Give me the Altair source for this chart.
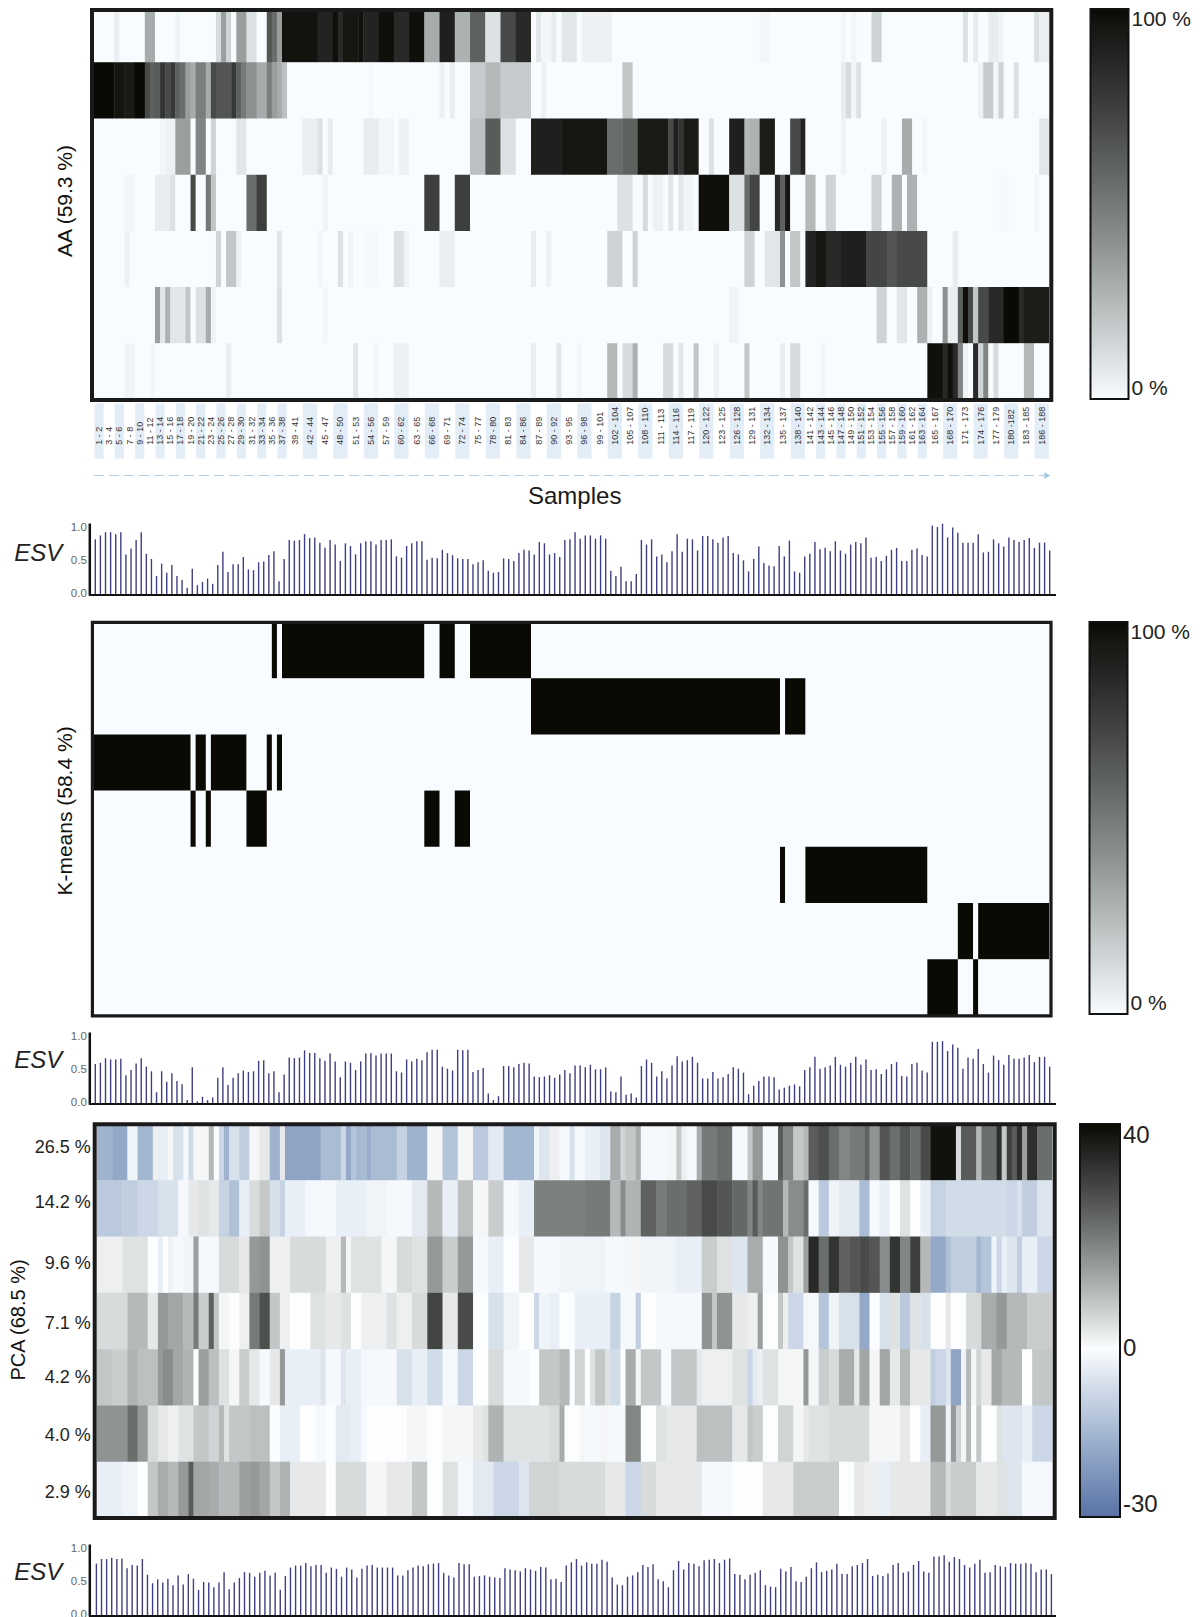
import altair as alt
import pandas as pd

FONT = "Liberation Sans"
N = 188

# ---- AA heat map: (first sample column, last sample column, percent)
aa_1 = [(4,4,5),(10,11,30),(16,16,3),(24,24,12),(25,25,35),(26,26,15),(28,29,35),(30,31,10),(34,34,65),(35,35,55),(36,36,35),(37,43,97),(44,46,88),(47,47,98),(48,48,85),(49,51,95),(52,52,98),(53,55,88),(56,58,98),(59,61,85),(62,64,98),(65,67,30),(68,70,90),(71,73,28),(74,76,60),(77,79,10),(80,82,70),(83,85,85),(87,87,8),(88,89,2),(90,90,6),(92,94,8),(96,101,4),(131,132,2),(147,147,2),(149,149,2),(153,154,15),(171,171,10),(173,173,6),(176,177,6),(178,178,3),(185,185,10),(186,187,5)]
aa_2 = [(0,3,100),(4,5,96),(6,7,93),(8,9,100),(10,10,70),(11,11,60),(12,12,62),(13,13,80),(14,14,70),(15,15,78),(16,16,60),(17,17,55),(18,18,35),(19,19,30),(20,21,48),(22,22,30),(23,23,70),(24,26,65),(27,27,78),(28,28,60),(29,29,50),(30,31,40),(32,33,30),(34,34,48),(35,35,35),(36,36,30),(37,37,22),(54,54,1),(68,68,4),(70,70,5),(74,76,18),(77,79,25),(80,85,18),(88,88,4),(104,105,20),(147,147,6),(148,148,12),(149,149,2),(150,150,10),(174,174,4),(175,176,18),(177,177,2),(178,178,15),(181,181,10)]
aa_3 = [(13,13,2),(14,15,4),(16,18,35),(20,21,45),(23,23,15),(28,29,8),(41,43,5),(44,44,10),(46,46,6),(53,55,6),(56,58,2),(60,61,4),(74,76,22),(77,79,62),(80,82,10),(86,91,90),(92,100,95),(101,103,55),(104,106,60),(107,112,93),(113,113,70),(114,114,90),(115,115,80),(116,118,93),(121,121,10),(125,127,90),(128,128,25),(129,130,28),(131,133,92),(137,138,70),(139,139,88),(147,147,3),(155,155,4),(159,160,30),(163,163,2),(186,187,8)]
aa_4 = [(6,7,2),(12,14,6),(15,15,10),(19,19,70),(22,22,50),(23,23,20),(30,31,55),(32,33,75),(45,45,3),(65,67,75),(71,73,75),(103,105,10),(108,108,12),(110,111,4),(113,113,8),(115,115,8),(116,117,3),(119,124,98),(125,127,10),(128,128,55),(129,130,72),(134,134,85),(135,135,60),(136,136,95),(140,141,25),(144,145,15),(153,154,15),(157,158,28),(160,161,28),(178,179,1),(185,185,2)]
aa_5 = [(6,6,4),(24,24,15),(26,27,20),(28,28,4),(36,36,8),(44,44,2),(48,48,10),(50,50,3),(53,55,1),(59,60,10),(61,61,3),(68,70,5),(86,86,6),(89,89,4),(101,103,15),(106,106,15),(128,129,15),(132,134,8),(135,135,40),(137,138,20),(140,141,88),(142,143,95),(144,146,85),(147,151,90),(152,155,72),(156,157,65),(158,163,70),(169,169,6)]
aa_6 = [(12,12,35),(13,13,8),(14,14,28),(15,17,8),(18,18,20),(20,21,10),(22,22,30),(23,23,3),(36,36,10),(45,45,2),(125,126,3),(154,155,15),(158,159,8),(162,163,28),(164,164,4),(167,167,40),(168,169,5),(170,170,60),(171,171,98),(172,172,70),(173,173,20),(174,175,70),(176,178,85),(179,181,100),(182,182,85),(183,187,92)]
aa_7 = [(6,7,3),(11,11,2),(26,26,5),(51,51,8),(55,55,2),(59,61,4),(86,86,5),(91,91,8),(95,95,2),(101,102,25),(104,105,12),(106,106,28),(112,113,12),(115,115,8),(118,118,20),(122,122,4),(128,128,20),(135,135,5),(137,138,12),(143,143,2),(164,166,98),(167,167,85),(168,168,98),(169,169,85),(170,170,45),(171,171,3),(173,173,85),(174,174,15),(175,175,45),(177,177,12),(183,184,25)]
aa_rows = [aa_1, aa_2, aa_3, aa_4, aa_5, aa_6, aa_7]

# ---- K-means membership: (first column, last column, cluster row)
kmeans_runs = [(0,18,2),(19,19,3),(20,21,2),(22,22,3),(23,29,2),(30,33,3),(34,34,2),(35,35,0),(36,36,2),(37,64,0),(65,67,3),(68,70,0),(71,73,3),(74,85,0),(86,134,1),(135,135,4),(136,139,1),(140,163,4),(164,169,6),(170,172,5),(173,173,6),(174,187,5)]

# ---- PCA heat map: (first column, score) - holds until the next entry
pca_1 = [(0,-16),(3,-18),(6,-2),(8,-15),(11,2),(12,-3),(14,1),(15,-6),(17,-1),(18,-7),(19,1),(22,10),(23,0),(24,-8),(25,-16),(26,-6),(28,-10),(30,1),(32,3),(34,-16),(36,3),(37,-19),(44,-14),(48,-8),(49,-18),(50,-12),(51,-15),(52,-14),(53,-17),(54,-14),(59,-9),(61,-16),(65,1),(68,-12),(71,1),(74,-11),(77,-4),(80,-15),(86,-2),(87,-5),(89,2),(91,-1),(93,-6),(94,-1),(96,-3),(99,-5),(101,12),(103,6),(104,8),(106,12),(107,-1),(112,1),(114,8),(115,2),(116,-1),(118,12),(119,20),(122,22),(125,-1),(128,8),(129,15),(131,-1),(134,25),(135,18),(137,8),(139,10),(140,25),(142,27),(144,22),(146,18),(148,20),(151,24),(152,16),(154,26),(156,22),(158,26),(160,22),(162,28),(164,39),(169,5),(170,25),(173,10),(174,22),(177,33),(178,8),(179,30),(180,25),(181,33),(182,14),(183,33),(185,22)]
pca_2 = [(0,-11),(5,-10),(8,-8),(12,-6),(16,-1),(18,3),(20,4),(22,3),(24,-9),(26,-13),(28,-3),(30,5),(32,8),(34,-6),(36,-9),(37,-3),(41,-1),(47,-3),(53,-2),(57,-1),(62,-4),(65,10),(68,-3),(71,9),(74,1),(77,7),(80,-1),(83,-3),(86,19),(96,20),(101,10),(103,17),(104,11),(107,24),(110,20),(112,22),(116,24),(119,28),(122,26),(125,23),(128,18),(129,25),(130,18),(131,21),(135,10),(136,17),(139,22),(140,-1),(142,-11),(144,-2),(146,-4),(150,-14),(152,-1),(154,-3),(156,0),(158,4),(160,0),(162,-3),(164,-9),(167,-7),(179,-8),(181,-6),(182,-10),(185,-5)]
pca_3 = [(0,2),(5,4),(10,0),(12,-3),(13,0),(14,-2),(15,-1),(17,-2),(19,14),(20,-1),(24,5),(28,3),(30,15),(32,16),(34,2),(38,5),(45,2),(48,10),(49,1),(50,4),(56,1),(59,5),(62,4),(65,15),(68,7),(71,15),(74,-1),(77,-3),(80,0),(83,3),(86,-1),(91,-2),(100,-1),(104,1),(107,-2),(114,-3),(119,7),(122,4),(125,-5),(128,12),(131,-1),(134,16),(136,8),(137,4),(139,14),(140,34),(142,22),(144,32),(146,24),(148,26),(150,28),(152,26),(154,17),(156,32),(158,18),(160,30),(162,10),(164,-18),(167,-13),(168,-10),(173,-15),(174,-12),(176,-2),(177,-8),(178,-3),(179,-5),(181,-10),(182,-3),(185,-8)]
pca_4 = [(0,5),(6,10),(10,3),(12,15),(14,13),(17,10),(19,20),(20,7),(22,24),(23,8),(24,1),(26,0),(28,2),(30,20),(32,27),(34,8),(36,2),(38,0),(42,4),(45,3),(48,4),(50,0),(52,2),(57,4),(59,2),(62,5),(65,29),(68,3),(71,28),(74,0),(77,-6),(80,-2),(83,0),(86,-8),(87,-2),(89,-3),(91,0),(94,-3),(101,-9),(103,-1),(106,-10),(107,0),(110,-1),(119,16),(121,8),(122,16),(125,3),(128,2),(130,14),(131,0),(134,8),(135,2),(136,-8),(139,1),(140,-1),(142,-12),(144,-2),(146,-6),(150,-18),(152,0),(154,-6),(156,4),(158,-11),(160,4),(162,-6),(164,0),(167,3),(168,0),(171,5),(174,12),(177,15),(179,10),(183,7)]
pca_5 = [(0,8),(3,7),(6,11),(8,9),(12,15),(13,17),(15,13),(17,11),(19,0),(20,14),(22,9),(24,4),(26,1),(28,7),(30,3),(32,-1),(34,3),(36,15),(37,-3),(44,-5),(45,-1),(48,-5),(49,-3),(52,-1),(59,-6),(62,-3),(65,-7),(68,-1),(71,-8),(74,0),(77,5),(80,-1),(85,0),(87,8),(91,10),(93,0),(94,6),(96,0),(97,4),(98,8),(100,4),(101,-7),(103,0),(104,12),(106,1),(107,8),(111,-1),(113,8),(118,3),(119,2),(125,4),(128,-8),(129,-4),(130,2),(131,4),(134,1),(139,15),(140,1),(142,7),(144,5),(146,12),(149,3),(150,13),(152,1),(154,13),(156,3),(158,10),(160,3),(164,-10),(165,-8),(167,-5),(168,-19),(170,-2),(171,10),(172,1),(173,6),(174,3),(176,13),(178,10),(182,0),(184,8)]
pca_6 = [(0,16),(6,22),(8,15),(10,5),(12,3),(14,2),(16,4),(19,8),(22,6),(24,10),(25,4),(26,8),(30,9),(34,0),(36,-3),(40,0),(43,-1),(45,0),(47,-4),(50,-3),(52,-1),(53,0),(61,1),(65,0),(68,1),(74,3),(76,4),(77,11),(80,4),(89,5),(91,12),(92,0),(95,1),(96,-1),(99,1),(101,-1),(104,18),(107,0),(110,4),(112,3),(118,9),(125,3),(128,8),(129,7),(131,0),(134,6),(137,1),(139,3),(140,4),(144,5),(152,1),(158,3),(160,0),(162,-3),(164,15),(167,-2),(168,15),(169,6),(170,1),(171,10),(172,0),(173,8),(174,0),(177,4),(178,-5),(182,-3),(184,-8)]
pca_7 = [(0,-3),(5,-2),(8,0),(10,8),(12,12),(14,10),(16,15),(18,25),(19,13),(22,12),(24,10),(28,14),(30,15),(32,13),(34,8),(36,11),(38,3),(45,0),(47,5),(53,1),(57,3),(62,8),(65,0),(68,4),(71,-1),(74,-4),(78,-8),(83,-5),(85,6),(91,5),(100,3),(104,-8),(107,5),(110,3),(119,-1),(125,0),(131,3),(137,7),(146,0),(149,3),(151,2),(154,-3),(156,3),(164,10),(167,5),(168,7),(173,3),(177,4),(179,-5),(182,-1)]
pca_rows = [pca_1, pca_2, pca_3, pca_4, pca_5, pca_6, pca_7]
pca_labels = ["26.5 %", "14.2 %", "9.6 %", "7.1 %", "4.2 %", "4.0 %", "2.9 %"]
pca_label_rows = [0.43, 1.41, 2.48, 3.55, 4.52, 5.55, 6.56]

# ---- Explained sample variance
esv_aa = [.82,.88,.93,.93,.90,.93,.59,.68,.81,.93,.60,.52,.26,.45,.31,.43,.26,.20,.08,.37,.12,.17,.22,.14,.43,.63,.32,.44,.44,.55,.36,.35,.47,.48,.58,.64,.18,.52,.81,.80,.81,.90,.84,.85,.77,.69,.81,.74,.49,.76,.72,.59,.76,.79,.79,.74,.81,.81,.82,.56,.54,.72,.76,.79,.79,.51,.54,.53,.66,.61,.58,.53,.52,.52,.44,.47,.50,.34,.31,.32,.53,.52,.49,.61,.66,.65,.59,.78,
          .76,.59,.61,.55,.81,.82,.93,.83,.88,.88,.83,.88,.83,.34,.26,.40,.18,.18,.29,.81,.74,.82,.56,.59,.47,.64,.90,.63,.83,.82,.65,.87,.87,.82,.77,.85,.87,.61,.59,.50,.33,.52,.71,.46,.42,.41,.72,.56,.80,.33,.31,.56,.60,.78,.67,.69,.64,.79,.65,.60,.74,.78,.76,.85,.54,.55,.49,.57,.66,.69,.49,.49,.66,.68,.58,.56,1.03,1.01,1.06,.85,1.00,.92,.77,.77,.77,.90,.62,.63,.82,.76,.71,.85,.81,.78,.81,.84,.69,.77,.77,.65]
esv_kmeans = [.58,.60,.67,.65,.65,.66,.41,.49,.59,.67,.54,.47,.15,.47,.31,.44,.32,.27,.03,.53,.01,.08,.03,.07,.37,.53,.26,.37,.44,.48,.46,.47,.63,.64,.44,.47,.15,.42,.68,.67,.68,.79,.75,.75,.67,.63,.74,.62,.38,.62,.60,.49,.62,.74,.75,.71,.74,.74,.74,.47,.45,.65,.62,.66,.64,.76,.80,.80,.54,.51,.48,.80,.79,.80,.46,.49,.52,.13,.03,.09,.55,.55,.53,.58,.60,.59,.39,.38,
              .39,.41,.37,.42,.49,.44,.56,.56,.53,.57,.50,.50,.53,.16,.15,.39,.11,.13,.07,.55,.65,.60,.39,.47,.36,.56,.70,.62,.64,.69,.60,.36,.36,.46,.36,.38,.43,.53,.51,.45,.12,.25,.32,.39,.39,.38,.19,.22,.25,.27,.24,.49,.53,.69,.51,.53,.56,.69,.57,.54,.60,.69,.57,.65,.49,.50,.43,.50,.58,.61,.40,.39,.58,.60,.48,.45,.92,.92,.93,.78,.88,.83,.51,.68,.66,.81,.58,.45,.71,.64,.57,.72,.66,.66,.68,.72,.61,.69,.69,.54]
esv_pca = [.77,.84,.84,.86,.84,.85,.70,.75,.74,.84,.60,.47,.53,.48,.54,.44,.59,.45,.61,.54,.37,.49,.48,.41,.48,.64,.38,.48,.55,.64,.63,.57,.63,.66,.59,.63,.37,.58,.71,.74,.74,.78,.73,.75,.75,.63,.71,.69,.57,.71,.68,.56,.69,.74,.75,.71,.71,.71,.71,.59,.59,.67,.71,.74,.73,.76,.77,.78,.63,.59,.56,.78,.76,.76,.57,.58,.59,.57,.56,.55,.70,.68,.67,.65,.70,.68,.66,.72,
           .71,.53,.54,.49,.74,.79,.84,.74,.79,.77,.77,.83,.80,.56,.45,.44,.57,.59,.64,.75,.72,.76,.53,.50,.41,.67,.81,.68,.78,.77,.73,.82,.83,.84,.78,.83,.85,.61,.60,.53,.60,.63,.67,.44,.42,.41,.69,.65,.72,.50,.49,.57,.70,.79,.64,.66,.68,.77,.61,.61,.73,.75,.78,.84,.58,.60,.58,.62,.75,.78,.63,.65,.75,.81,.65,.63,.88,.88,.90,.80,.87,.84,.75,.71,.77,.83,.63,.64,.75,.73,.72,.78,.77,.77,.78,.77,.64,.68,.68,.61]

# ---- Sample axis labels
sample_labels = ["1 - 2","3 - 4","5 - 6","7 - 8","9 - 10","11 - 12","13 - 14","15 - 16","17 - 18","19 - 20","21 - 22","23 - 24","25 - 26","27 - 28","29 - 30","31 - 32","33 - 34","35 - 36","37 - 38","39 - 41","42 - 44","45 - 47","48 - 50","51 - 53","54 - 56","57 - 59","60 - 62","63 - 65","66 - 68","69 - 71","72 - 74","75 - 77","78 - 80","81 - 83","84 - 86","87 - 89","90 - 92","93 - 95","96 - 98","99 - 101","102 - 104","105 - 107","108 - 110","111 - 113","114 - 116","117 - 119","120 - 122","123 - 125","126 - 128","129 - 131","132 - 134","135 - 137","138 - 140","141 - 142","143 - 144","145 - 146","147 - 148","149 - 150","151 - 152","153 - 154","155 - 156","157 - 158","159 - 160","161 - 162","163 - 164","165 - 167","168 - 170","171 - 173","174 - 176","177 - 179","180 -182","183 - 185","186 - 188"]

# ---- styling
WHITE = "#f8fcff"
BLACK = "#0a0904"
FRAME = "#1a1a1a"
BAR = "#3f3f82"
W = 955.3
ONE = alt.Data(values=[{"a": 1}])


def merge(values, row):
    out, start = [], 0
    for i in range(1, len(values) + 1):
        if i == len(values) or values[i] != values[start]:
            out.append({"x": start, "x2": min(i + 0.08, N), "y": row, "y2": row + 1.01, "v": values[start]})
            start = i
    return out


def from_ranges(ranges):
    vals = [0] * N
    for a, b, v in ranges:
        for i in range(a, b + 1):
            vals[i] = v
    return vals


def from_starts(starts):
    vals = [0] * N
    for k, (a, v) in enumerate(starts):
        end = starts[k + 1][0] if k + 1 < len(starts) else N
        for i in range(a, end):
            vals[i] = v
    return vals


def heat(rows, xrange, yrange, width, height, color_scale, legend, frame, frame_w, extras):
    cells = []
    for r, vals in enumerate(rows):
        cells += merge(vals, r)
    base = alt.Chart(pd.DataFrame(cells)).mark_rect(clip=True, strokeWidth=0).encode(
        x=alt.X("x:Q", axis=None, scale=alt.Scale(domain=[0, N], range=xrange)),
        x2="x2:Q",
        y=alt.Y("y:Q", axis=None, scale=alt.Scale(domain=[0, 7], range=yrange)),
        y2="y2:Q",
        color=alt.Color("v:Q", title=None, scale=color_scale, legend=legend),
    )
    fr = alt.Chart(ONE).mark_rect(fillOpacity=0, stroke=FRAME, strokeWidth=frame_w).encode(
        x=alt.value(frame[0]), x2=alt.value(frame[1]), y=alt.value(frame[2]), y2=alt.value(frame[3]))
    return alt.layer(base, fr, *extras).properties(width=width, height=height)


def side_text(txt, x, y, size=21):
    return alt.Chart(ONE).mark_text(text=txt, angle=270, fontSize=size, font=FONT, color="#111", align="center", baseline="middle").encode(
        x=alt.value(x), y=alt.value(y))


def legend(vals, x, y, length, thick, expr, size=21):
    return alt.Legend(orient="none", legendX=x, legendY=y, direction="vertical", gradientLength=length,
                      gradientThickness=thick, gradientStrokeColor="#111", gradientStrokeWidth=2,
                      values=vals, labelExpr=expr, labelFontSize=size, labelFont=FONT, labelColor="#222",
                      labelOffset=3, labelOverlap=False, title=None, padding=0)


def esv(values, xr, esv_y, width, height):
    df = pd.DataFrame({"s": range(N), "v": values})
    bars = alt.Chart(df).mark_rule(color=BAR, strokeWidth=1.4).encode(
        x=alt.X("s:Q", axis=None, scale=alt.Scale(domain=[0, N - 1], range=xr)),
        y=alt.Y("v:Q", scale=alt.Scale(domain=[-0.03, 1.07], range=[72, 0]),
                axis=alt.Axis(values=[0, 0.5, 1], format=".1f", title=None, grid=False, ticks=False,
                              domainColor="#111", domainWidth=2.5, labelFontSize=11.5, labelFont=FONT,
                              labelColor="#666", labelPadding=3, offset=4.7)),
        y2=alt.value(72),
    )
    base = alt.Chart(ONE).mark_rule(color="#111", strokeWidth=2).encode(
        x=alt.value(-5), x2=alt.value(962), y=alt.value(72))
    lab = alt.Chart(ONE).mark_text(text="ESV", fontStyle="italic", fontSize=24, font=FONT, color="#222",
                                   align="center", baseline="middle").encode(x=alt.value(-55.8), y=alt.value(esv_y))
    return alt.layer(bars, base, lab).properties(width=width, height=height)


grey_scale = alt.Scale(domain=[0, 100], range=[WHITE, BLACK])
pct_expr = "datum.value + ' %'"

# anchor keeps the plot origin 85 px right of the page margin
anchor = alt.Chart(ONE).mark_rule(opacity=0).encode(x=alt.value(-85.3), y=alt.value(0), y2=alt.value(1))

aa_panel = heat([from_ranges(r) for r in aa_rows], [0, W], [-1.9, 391.5], W, 391.5, grey_scale,
                legend([0, 100], 996.5, 1, 390, 38, pct_expr), (-2, 957.3, 2, 392), 4,
                [anchor, side_text("AA (59.3 %)", -28.3, 193)])

# sample strip
lab_df = pd.DataFrame([{"label": s,
                        "a": int(s.split("-")[0]) - 1 + 0.1,
                        "b": int(s.split("-")[1]) - 0.1,
                        "m": (int(s.split("-")[0]) - 1 + int(s.split("-")[1])) / 2,
                        "i": i} for i, s in enumerate(sample_labels)])
x_samples = alt.Scale(domain=[0, N], range=[0, W])
bands = alt.Chart(lab_df[lab_df.i % 2 == 0]).mark_rect(color="#e3edf8").encode(
    x=alt.X("a:Q", axis=None, scale=x_samples), x2="b:Q", y=alt.value(3.5), y2=alt.value(58.5))
band_text = alt.Chart(lab_df).mark_text(angle=270, align="left", baseline="middle", fontSize=9, font=FONT, color="#333").encode(
    x=alt.X("m:Q", axis=None, scale=x_samples), y=alt.value(44.8), text="label:N")
arrow = alt.Chart(ONE).mark_rule(color="#b3d1e6", strokeWidth=1, strokeDash=[10, 5]).encode(
    x=alt.datum(0, axis=None, scale=x_samples), x2=alt.datum(187), y=alt.value(75.5))
head = alt.Chart(ONE).mark_point(shape="triangle-right", filled=True, color="#a0c6e2", size=45, opacity=1).encode(
    x=alt.datum(187.6, axis=None, scale=x_samples), y=alt.value(75.5))
samples_txt = alt.Chart(ONE).mark_text(text="Samples", fontSize=24, font=FONT, color="#1a1a1a", align="center", baseline="middle").encode(
    x=alt.datum(94.6, axis=None, scale=x_samples), y=alt.value(96.5))
strip = alt.layer(bands, band_text, arrow, head, samples_txt).properties(width=W, height=122.5)

esv_1 = esv(esv_aa, [1.3, 955.7], 31, W, 98.7)

km_rows = [[0] * N for _ in range(7)]
for a, b, r in kmeans_runs:
    for i in range(a, b + 1):
        km_rows[r][i] = 100
km_panel = heat(km_rows, [0, W], [0, 393.4], W, 410, grey_scale,
                legend([0, 100], 995.5, 0, 392, 38, pct_expr), (-1.6, 957, 0.3, 393.8), 3.2,
                [side_text("K-means (58.4 %)", -28, 189)])

esv_2 = esv(esv_kmeans, [1.3, 955.7], 29, W, 91.3)

pca_scale = alt.Scale(domain=[-30, 0, 40], range=["#5a72a5", "#fbfdff", BLACK])
pca_lab = alt.Chart(pd.DataFrame({"t": pca_labels, "y": pca_label_rows})).mark_text(
    align="right", baseline="middle", fontSize=18, font=FONT, color="#222").encode(
    x=alt.value(-3.3),
    y=alt.Y("y:Q", axis=None, scale=alt.Scale(domain=[0, 7], range=[0, 394])),
    text="t:N")
pca_panel = heat([from_starts(r) for r in pca_rows], [2.9, 958.5], [0, 394], 958.5, 419.7, pca_scale,
                 legend([-30, 0, 40], 986, 0, 393, 40, "datum.value", 24), (0.7, 960.7, 0.3, 394), 4,
                 [pca_lab, side_text("PCA (68.5 %)", -75.3, 196, 20)])

esv_3 = esv(esv_pca, [2.4, 957.4], 29.3, W, 72)

chart = alt.vconcat(aa_panel, strip, esv_1, km_panel, esv_2, pca_panel, esv_3, spacing=0, bounds="flush").resolve_scale(
    color="independent"
).properties(padding=0, background="white").configure_view(stroke=None)

chart.save("out.html", embed_options={"renderer": "svg", "actions": False})
